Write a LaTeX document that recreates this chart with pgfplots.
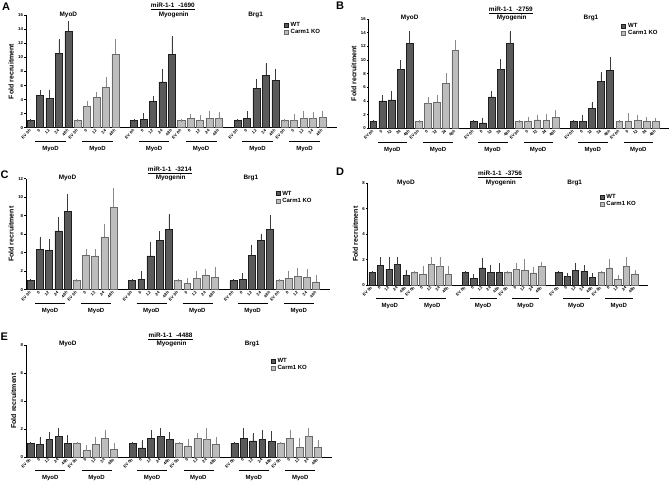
\documentclass[border=0pt]{standalone}
\usepackage{fontspec}
\setmainfont{Liberation Sans}
\usepackage{pgfplots}
\pgfplotsset{compat=1.18}
\usepackage{pgfplotstable}

\definecolor{wtfill}{HTML}{5A5A5A}
\definecolor{wtdraw}{HTML}{1E1E1E}
\definecolor{kofill}{HTML}{BDBDBD}
\definecolor{kodraw}{HTML}{6A6A6A}
\definecolor{wterr}{HTML}{3C3C3C}
\definecolor{koerr}{HTML}{8A8A8A}

% ---------------- data: x position, bar value, top of error bar ----------------
\pgfplotstableread{
x y t
0 1 1
1 4.56 5.15
2 4.2 5.2
3 10.57 12.45
4 13.7 14.98
11 1 1
12 1.18 1.94
13 3.79 4.36
14 6.54 8.1
15 10.47 12.84
22 1 1
23 1.33 2.18
24 5.6 6.78
25 7.49 9.0
26 6.78 8.2
}\wtA
\pgfplotstableread{
x y t
5 1 1
6 2.99 3.55
7 4.36 4.88
8 5.73 6.97
9 10.47 12.4
16 1 1
17 1.37 1.75
18 1.0 1.66
19 1.37 2.23
20 1.28 2.04
27 1 1
28 1.0 1.8
29 1.28 2.13
30 1.28 2.04
31 1.42 2.13
}\koA
\pgfplotstableread{
x y t
0 1 1
1 4.0 4.7
2 4.15 5.3
3 8.6 9.8
4 12.4 14.0
11 1 1
12 0.8 1.35
13 4.6 5.3
14 8.6 9.9
15 12.4 14.1
22 1 1
23 1.0 1.8
24 2.9 3.7
25 6.9 8.0
26 8.5 10.2
}\wtB
\pgfplotstableread{
x y t
5 1 1
6 3.6 4.4
7 3.8 4.7
8 6.6 7.9
9 11.4 12.7
16 1 1
17 1.0 1.5
18 1.25 1.8
19 1.2 1.95
20 1.6 2.5
27 1 1
28 1.1 2.0
29 1.15 1.8
30 1.0 1.4
31 1.0 1.3
}\koB
\pgfplotstableread{
x y t
0 1 1
1 4.4 5.55
2 4.25 5.3
3 6.35 7.7
4 8.5 10.2
11 1 1
12 1.15 1.9
13 3.65 5.0
14 5.35 6.2
15 6.55 8.05
22 1 1
23 1.15 1.65
24 3.7 4.65
25 5.35 5.9
26 6.5 7.9
}\wtC
\pgfplotstableread{
x y t
5 1 1
6 3.75 4.2
7 3.65 4.3
8 5.7 7.0
9 8.9 10.8
16 1 1
17 0.7 1.1
18 1.25 1.9
19 1.6 2.1
20 1.35 2.3
27 1 1
28 1.25 1.9
29 1.45 2.2
30 1.35 2.1
31 0.85 1.45
}\koC
\pgfplotstableread{
x y t
0 1 1
1 1.55 2.1
2 1.25 2.1
3 1.6 2.1
4 0.75 1.1
11 1 1
12 0.55 0.75
13 1.35 2.0
14 1.0 1.5
15 1.0 1.6
22 1 1
23 0.65 0.8
24 1.15 1.65
25 1.1 1.45
26 0.6 0.85
}\wtD
\pgfplotstableread{
x y t
5 1 1
6 0.85 1.4
7 1.6 2.1
8 1.45 2.1
9 0.85 1.35
16 1 1
17 1.2 1.65
18 1.15 1.9
19 0.95 1.3
20 1.45 1.7
27 1 1
28 1.35 1.95
29 0.45 0.7
30 1.45 2.1
31 0.85 1.05
}\koD
\pgfplotstableread{
x y t
0 1 1
1 0.9 1.35
2 1.25 1.7
3 1.45 2.0
4 1.0 1.45
11 1 1
12 0.65 1.1
13 1.35 1.8
14 1.45 2.0
15 1.25 1.7
22 1 1
23 1.35 2.0
24 1.15 1.6
25 1.25 1.8
26 1.1 1.75
}\wtE
\pgfplotstableread{
x y t
5 1 1
6 0.45 0.75
7 0.9 1.35
8 1.35 1.8
9 0.55 0.9
16 1 1
17 0.8 1.2
18 1.35 1.65
19 1.25 2.0
20 0.9 1.3
27 1 1
28 1.35 1.85
29 0.7 1.25
30 1.45 2.0
31 0.7 1.15
}\koE

\pgfplotsset{
  fcaxis/.style={
    scale only axis, anchor=south west, clip=false,
    xmin=-0.5, xmax=32.5, ymin=0,
    axis x line*=bottom, axis y line*=left,
    axis line style={line width=0.8pt, black},
    ytick distance=2,
    xtick={0,1,2,3,4,5,6,7,8,9,11,12,13,14,15,16,17,18,19,20,22,23,24,25,26,27,28,29,30,31},
    xticklabels={EV 0h,0,12,24,48h,EV 0h,0,12,24,48h,EV 0h,0,12,24,48h,EV 0h,0,12,24,48h,EV 0h,0,12,24,48h,EV 0h,0,12,24,48h},
    /pgf/number format/assume math mode=true,
    tick align=outside, major tick length=1.8pt,
    ytick style={line width=0.5pt, black},
    xtick style={draw=none},
    yticklabel style={font=\fontsize{4.3}{4.3}\selectfont\bfseries, inner sep=1pt},
    xticklabel style={font=\fontsize{4.1}{4.1}\selectfont\bfseries, rotate=45, anchor=east, inner sep=0.6pt},
    ylabel={Fold recruitment},
    ylabel style={font=\fontsize{7}{7}\selectfont\bfseries},
    legend cell align=left,
    legend style={draw=none, fill=none, font=\fontsize{6}{6}\selectfont\bfseries,
      inner sep=0pt, row sep=-0.2pt, nodes={inner sep=0.8pt}},
    legend image code/.code={\draw[#1, line width=0.5pt] (0pt,-1.9pt) rectangle (4pt,2.1pt); \path (5.5pt,0pt);},
  },
  wtbar/.style={ybar, bar width=0.75, bar shift=0pt, fill=wtfill, draw=wtdraw, line width=0.5pt,
    error bars/y dir=plus, error bars/y explicit,
    error bars/error bar style={line width=0.6pt, draw=wterr},
    error bars/error mark options={line width=0.6pt, draw=wterr, mark size=1.4pt}},
  kobar/.style={ybar, bar width=0.75, bar shift=0pt, fill=kofill, draw=kodraw, line width=0.5pt,
    error bars/y dir=plus, error bars/y explicit,
    error bars/error bar style={line width=0.6pt, draw=koerr},
    error bars/error mark options={line width=0.6pt, draw=koerr, mark size=1.4pt}},
}
\tikzset{
  subt/.style={font=\fontsize{6.4}{6.4}\selectfont\bfseries, inner sep=0pt},
  grpt/.style={font=\fontsize{6}{6}\selectfont\bfseries, inner sep=0pt},
}

\newcommand{\grp}[3]{%
  \draw[line width=0.6pt] ([yshift=-13.5pt]axis cs:#1,0) -- ([yshift=-13.5pt]axis cs:#2,0);
  \node[grpt] at ([yshift=-21.5pt]axis cs:#3,0) {MyoD};}

\newcommand{\fcpanel}[9]{%
\begin{axis}[fcaxis, at={(#1pt,-#2pt)}, width=#3pt, height=#4pt, ymax=#5,
   legend style={at={(#9)}, anchor=north west}]
\addplot[wtbar] table[x=x, y=y, y error plus expr=\thisrow{t}-\thisrow{y}] {#6};
\addlegendentry{WT}
\addplot[kobar] table[x=x, y=y, y error plus expr=\thisrow{t}-\thisrow{y}] {#7};
\addlegendentry{Carm1 KO}
\grp{0.5}{3.75}{2.1}
\grp{5.5}{8.75}{7.1}
\grp{11.5}{14.75}{13.1}
\grp{16.5}{19.75}{18.1}
\grp{22.5}{25.75}{24.1}
\grp{27.5}{30.75}{29.1}
\node[subt, anchor=center] at ([yshift=0.8pt]axis cs:4,#5) {MyoD};
\node[subt, anchor=center] at ([yshift=0.8pt]axis cs:15.2,#5) {Myogenin};
\node[subt, anchor=center] at ([yshift=0.8pt]axis cs:23.9,#5) {Brg1};
\node[subt, anchor=base] (T) at ([yshift=7.6pt]axis cs:15.1,#5) {miR-1-1\hspace{4pt}-#8};
\draw[line width=0.6pt] ([yshift=-2pt]T.base west) -- ([yshift=-2pt]T.base east);
\end{axis}}

\begin{document}
\begin{tikzpicture}
\useasboundingbox (0pt,0pt) rectangle (672pt,-484pt);
\fcpanel{26}{127.7}{310.5}{112.4}{16}{\wtA}{\koA}{1690}{0.83,0.945}
\fcpanel{368.7}{128.3}{300.6}{109.3}{16}{\wtB}{\koB}{2759}{0.84,0.966}
\fcpanel{26.1}{289.7}{303.9}{111}{12}{\wtC}{\koC}{3214}{0.82,0.898}
\fcpanel{367.8}{285}{279.8}{101.7}{8}{\wtD}{\koD}{3756}{0.828,0.90}
\fcpanel{26.1}{457}{305.6}{112}{8}{\wtE}{\koE}{4488}{0.80,0.89}
\node[font=\fontsize{11}{11}\selectfont\bfseries, anchor=north west, inner sep=0pt] at (2pt,-2.5pt) {A};
\node[font=\fontsize{11}{11}\selectfont\bfseries, anchor=north west, inner sep=0pt] at (336pt,-1.5pt) {B};
\node[font=\fontsize{11}{11}\selectfont\bfseries, anchor=north west, inner sep=0pt] at (0.5pt,-171pt) {C};
\node[font=\fontsize{11}{11}\selectfont\bfseries, anchor=north west, inner sep=0pt] at (336pt,-167.5pt) {D};
\node[font=\fontsize{11}{11}\selectfont\bfseries, anchor=north west, inner sep=0pt] at (0.5pt,-333pt) {E};
\end{tikzpicture}
\end{document}
